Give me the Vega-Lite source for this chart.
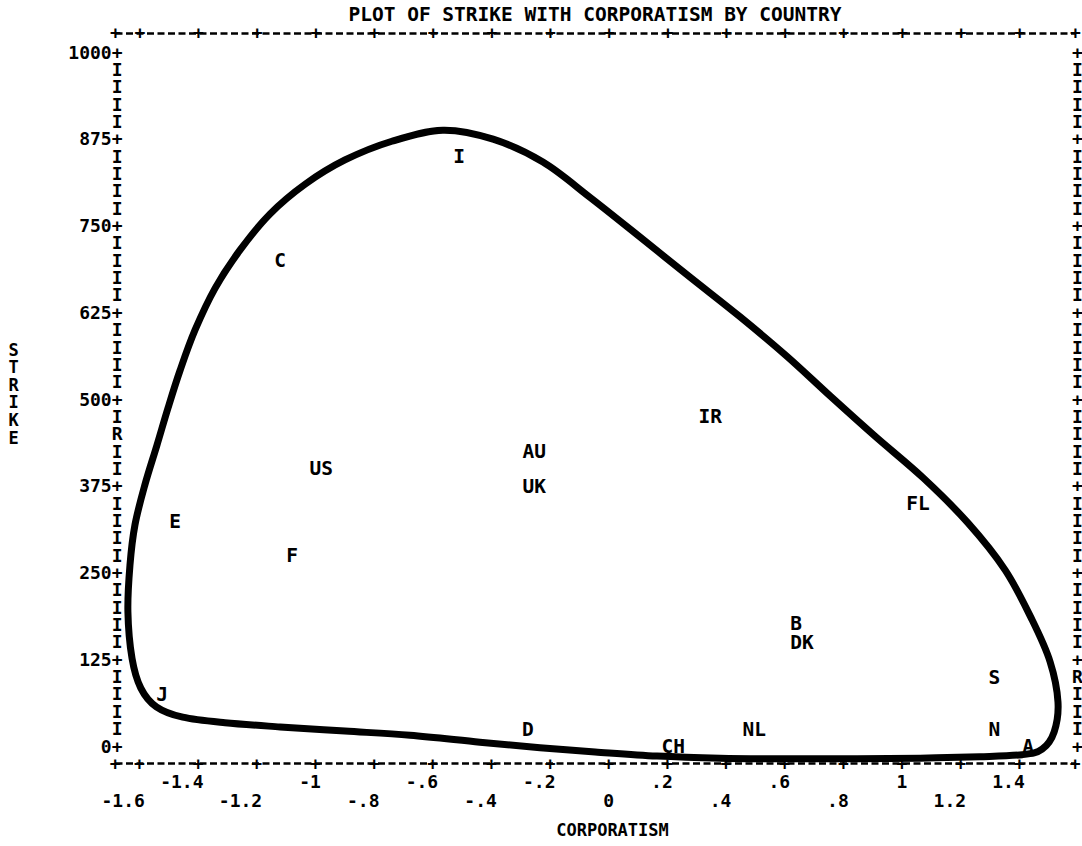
{
  "$schema": "https://vega.github.io/schema/vega-lite/v6.json",
  "width": 960,
  "height": 730,
  "autosize": {"type": "none"},
  "padding": {"left": 115, "top": 33, "right": 7, "bottom": 83},
  "background": "white",
  "title": {
    "text": "PLOT OF STRIKE WITH CORPORATISM BY COUNTRY",
    "font": "DejaVu Sans Mono",
    "fontWeight": "bold",
    "fontSize": 19.5,
    "color": "black",
    "anchor": "middle",
    "frame": "group",
    "baseline": "middle",
    "offset": -10
  },
  "datasets": {
    "outline": [
      {"i": 1, "x": -0.565, "y": 889},
      {"i": 2, "x": -0.394, "y": 876},
      {"i": 3, "x": -0.224, "y": 843},
      {"i": 4, "x": -0.063, "y": 792},
      {"i": 5, "x": 0.107, "y": 735},
      {"i": 6, "x": 0.278, "y": 677},
      {"i": 7, "x": 0.448, "y": 620},
      {"i": 8, "x": 0.608, "y": 563},
      {"i": 9, "x": 0.755, "y": 506},
      {"i": 10, "x": 0.908, "y": 448},
      {"i": 11, "x": 1.072, "y": 388},
      {"i": 12, "x": 1.225, "y": 323},
      {"i": 13, "x": 1.352, "y": 255},
      {"i": 14, "x": 1.444, "y": 183},
      {"i": 15, "x": 1.505, "y": 123},
      {"i": 16, "x": 1.532, "y": 65},
      {"i": 17, "x": 1.519, "y": 22},
      {"i": 18, "x": 1.478, "y": -3},
      {"i": 19, "x": 1.41, "y": -11},
      {"i": 20, "x": 1.266, "y": -14},
      {"i": 21, "x": 1.062, "y": -16},
      {"i": 22, "x": 0.847, "y": -17},
      {"i": 23, "x": 0.619, "y": -17},
      {"i": 24, "x": 0.38, "y": -16},
      {"i": 25, "x": 0.165, "y": -13},
      {"i": 26, "x": -0.046, "y": -7},
      {"i": 27, "x": -0.234, "y": -1},
      {"i": 28, "x": -0.439, "y": 7},
      {"i": 29, "x": -0.677, "y": 17},
      {"i": 30, "x": -0.899, "y": 23},
      {"i": 31, "x": -1.12, "y": 29},
      {"i": 32, "x": -1.308, "y": 35},
      {"i": 33, "x": -1.452, "y": 43},
      {"i": 34, "x": -1.542, "y": 58},
      {"i": 35, "x": -1.595, "y": 85},
      {"i": 36, "x": -1.625, "y": 128},
      {"i": 37, "x": -1.639, "y": 195},
      {"i": 38, "x": -1.632, "y": 262},
      {"i": 39, "x": -1.615, "y": 320},
      {"i": 40, "x": -1.581, "y": 378},
      {"i": 41, "x": -1.54, "y": 435},
      {"i": 42, "x": -1.502, "y": 489},
      {"i": 43, "x": -1.461, "y": 543},
      {"i": 44, "x": -1.41, "y": 601},
      {"i": 45, "x": -1.342, "y": 661},
      {"i": 46, "x": -1.257, "y": 716},
      {"i": 47, "x": -1.155, "y": 768},
      {"i": 48, "x": -1.035, "y": 811},
      {"i": 49, "x": -0.899, "y": 846},
      {"i": 50, "x": -0.739, "y": 873}
    ],
    "countries": [
      {"code": "I", "x": -0.51, "y": 850},
      {"code": "C", "x": -1.12, "y": 700},
      {"code": "IR", "x": 0.346, "y": 475},
      {"code": "AU", "x": -0.254, "y": 425},
      {"code": "UK", "x": -0.254, "y": 375},
      {"code": "US", "x": -0.98, "y": 400},
      {"code": "FL", "x": 1.055, "y": 350},
      {"code": "E", "x": -1.478, "y": 325},
      {"code": "F", "x": -1.079, "y": 275},
      {"code": "B", "x": 0.639, "y": 177},
      {"code": "DK", "x": 0.659, "y": 150},
      {"code": "S", "x": 1.315, "y": 100},
      {"code": "J", "x": -1.522, "y": 75},
      {"code": "D", "x": -0.275, "y": 25},
      {"code": "NL", "x": 0.496, "y": 25},
      {"code": "N", "x": 1.315, "y": 25},
      {"code": "CH", "x": 0.22, "y": 0},
      {"code": "A", "x": 1.43, "y": 0}
    ]
  },
  "layer": [
    {
      "data": {"name": "outline"},
      "mark": {"type": "line", "interpolate": "cardinal-closed", "stroke": "black", "strokeWidth": 7, "strokeJoin": "round"},
      "encoding": {
        "x": {
          "field": "x",
          "type": "quantitative",
          "scale": {"domain": [-1.683, 1.59], "nice": false, "zero": false},
          "axis": {
            "orient": "bottom",
            "values": [-1.683, -1.6, -1.4, -1.2, -1, -0.8, -0.6, -0.4, -0.2, 0, 0.2, 0.4, 0.6, 0.8, 1, 1.2, 1.4, 1.59],
            "labelExpr": "datum.value < -1.65 || datum.value > 1.5 ? ['+'] : (round(datum.value*10) % 4 == 0 ? ['+', '\u200b', (datum.value == 0 ? '0' : (abs(datum.value) < 1 ? (datum.value < 0 ? '-.' : '.') + round(abs(datum.value)*10) : '' + round(datum.value*10)/10))] : ['+', (datum.value == 0 ? '0' : (abs(datum.value) < 1 ? (datum.value < 0 ? '-.' : '.') + round(abs(datum.value)*10) : '' + round(datum.value*10)/10))])",
            "labelFont": "DejaVu Sans Mono",
            "labelFontWeight": "bold",
            "labelFontSize": 18,
            "labelColor": "black",
            "labelAlign": "right",
            "labelOffset": 5,
            "labelBaseline": "top",
            "labelPadding": -8,
            "labelLineHeight": 18.5,
            "labelOverlap": false,
            "labelFlush": false,
            "labelBound": false,
            "ticks": false,
            "tickSize": 0,
            "grid": false,
            "domain": true,
            "domainColor": "black",
            "domainWidth": 2.5,
            "domainDash": [7, 3.5],
            "title": "CORPORATISM",
            "titleFont": "DejaVu Sans Mono",
            "titleFontWeight": "bold",
            "titleFontSize": 17,
            "titleColor": "black",
            "titleAlign": "center",
            "titleBaseline": "middle",
            "titleX": 497,
            "titleY": 67
          }
        },
        "y": {
          "field": "y",
          "type": "quantitative",
          "scale": {"domain": [-23, 1029], "nice": false, "zero": false},
          "axis": {
            "orient": "left",
            "values": [0, 25, 50, 75, 100, 125, 150, 175, 200, 225, 250, 275, 300, 325, 350, 375, 400, 425, 450, 475, 500, 525, 550, 575, 600, 625, 650, 675, 700, 725, 750, 775, 800, 825, 850, 875, 900, 925, 950, 975, 1000],
            "labelExpr": "datum.value == 450 ? 'R' : (datum.value % 125 == 0 ? datum.value + '+' : 'I')",
            "labelFont": "DejaVu Sans Mono",
            "labelFontWeight": "bold",
            "labelFontSize": 18,
            "labelColor": "black",
            "labelAlign": "right",
            "labelBaseline": "middle",
            "labelPadding": -7,
            "labelOverlap": false,
            "labelFlush": false,
            "labelBound": false,
            "ticks": false,
            "tickSize": 0,
            "grid": false,
            "domain": false,
            "title": ["S", "T", "R", "I", "K", "E"],
            "titleFont": "DejaVu Sans Mono",
            "titleFontWeight": "bold",
            "titleFontSize": 17,
            "titleColor": "black",
            "titleAngle": 0,
            "titleAlign": "center",
            "titleBaseline": "top",
            "titleLineHeight": 17.6,
            "titleX": -102,
            "titleY": 309
          }
        },
        "order": {"field": "i", "type": "quantitative"}
      }
    },
    {
      "data": {"name": "countries"},
      "mark": {"type": "text", "font": "DejaVu Sans Mono", "fontWeight": "bold", "fontSize": 19.5, "align": "center", "baseline": "middle", "color": "black"},
      "encoding": {
        "x": {
          "field": "x",
          "type": "quantitative",
          "scale": {"domain": [-1.683, 1.59], "nice": false, "zero": false},
          "axis": {
            "orient": "top",
            "values": [-1.683, -1.6, -1.4, -1.2, -1, -0.8, -0.6, -0.4, -0.2, 0, 0.2, 0.4, 0.6, 0.8, 1, 1.2, 1.4, 1.59],
            "labelExpr": "'+'",
            "labelFont": "DejaVu Sans Mono",
            "labelFontWeight": "bold",
            "labelFontSize": 18,
            "labelColor": "black",
            "labelAlign": "center",
            "labelBaseline": "middle",
            "labelPadding": 0,
            "labelOverlap": false,
            "labelFlush": false,
            "labelBound": false,
            "ticks": false,
            "tickSize": 0,
            "grid": false,
            "domain": true,
            "domainColor": "black",
            "domainWidth": 2.5,
            "domainDash": [7, 3.5],
            "title": null
          }
        },
        "y": {
          "field": "y",
          "type": "quantitative",
          "scale": {"domain": [-23, 1029], "nice": false, "zero": false},
          "axis": {
            "orient": "right",
            "values": [0, 25, 50, 75, 100, 125, 150, 175, 200, 225, 250, 275, 300, 325, 350, 375, 400, 425, 450, 475, 500, 525, 550, 575, 600, 625, 650, 675, 700, 725, 750, 775, 800, 825, 850, 875, 900, 925, 950, 975, 1000],
            "labelExpr": "datum.value == 100 ? 'R' : (datum.value % 125 == 0 ? '+' : 'I')",
            "labelFont": "DejaVu Sans Mono",
            "labelFontWeight": "bold",
            "labelFontSize": 18,
            "labelColor": "black",
            "labelAlign": "center",
            "labelBaseline": "middle",
            "labelPadding": 2,
            "labelOverlap": false,
            "labelFlush": false,
            "labelBound": false,
            "ticks": false,
            "tickSize": 0,
            "grid": false,
            "domain": false,
            "title": null
          }
        },
        "text": {"field": "code", "type": "nominal"}
      }
    }
  ],
  "resolve": {"axis": {"x": "independent", "y": "independent"}},
  "config": {"view": {"stroke": null}}
}
